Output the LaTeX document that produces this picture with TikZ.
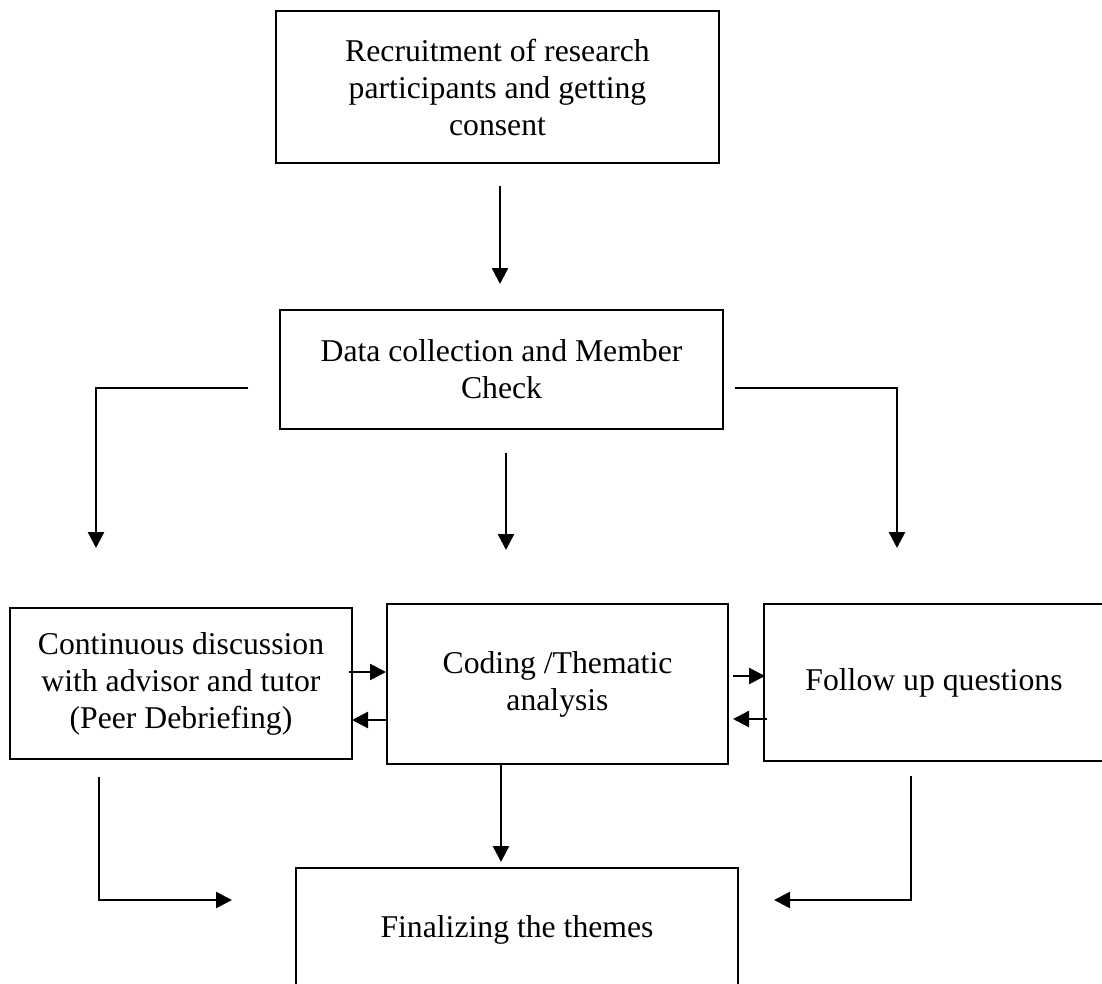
\documentclass[tikz,border=0pt]{standalone}
\usepackage{fontspec}
\setmainfont{Liberation Serif}
\usetikzlibrary{arrows.meta}
\begin{document}
\begin{tikzpicture}[x=1pt,y=-1pt,
  box/.style={draw, line width=2.5pt, inner sep=0pt, align=center,
    font=\fontsize{31.7}{37}\selectfont},
  conn/.style={line width=2.5pt},
  arr/.style={conn, -{Triangle[length=16pt,width=16pt]}}]
\useasboundingbox (0,0) rectangle (1102,984);
\clip (0,0) rectangle (1102,984);
% boxes
\node[box, minimum width=443pt, minimum height=152pt] (rec) at (497.5,87)
  {Recruitment of research\\participants and getting\\consent};
\node[box, minimum width=443pt, minimum height=119pt] (data) at (501.5,369.5)
  {Data collection and Member\\Check};
\node[box, minimum width=342pt, minimum height=151pt] (cont) at (181,683.5)
  {Continuous discussion\\with advisor and tutor\\(Peer Debriefing)};
\node[box, minimum width=341pt, minimum height=160pt] (code) at (557.5,684)
  {Coding /Thematic\\analysis};
\node[box, minimum width=340pt, minimum height=157pt] (follow) at (934,682.5)
  {Follow up questions};
\node[box, minimum width=442pt, minimum height=124pt] (final) at (517,930)
  {Finalizing the themes};
% free ends of connectors
\coordinate (r1) at (500,186);
\coordinate (r2) at (500,284);
\coordinate (dl1) at (248,388);
\coordinate (dl2) at (96,388);
\coordinate (dl3) at (96,548);
\coordinate (dm1) at (506,453);
\coordinate (dm2) at (506,550);
\coordinate (dr1) at (735,388);
\coordinate (dr2) at (897,388);
\coordinate (dr3) at (897,548);
\coordinate (cc1) at (349,672);
\coordinate (cc2) at (386,672);
\coordinate (cc3) at (386,720);
\coordinate (cc4) at (352,720);
\coordinate (cf1) at (733,676);
\coordinate (cf2) at (765,676);
\coordinate (cf3) at (767,719);
\coordinate (cf4) at (733,719);
\coordinate (cd1) at (501,764);
\coordinate (cd2) at (501,862);
\coordinate (lb1) at (99,777);
\coordinate (lb2) at (99,900);
\coordinate (lb3) at (232,900);
\coordinate (rb1) at (911,776);
\coordinate (rb2) at (911,900);
\coordinate (rb3) at (774,900);
% connectors
\draw[arr] (r1) -- (r2);
\draw[arr] (dl1) -- (dl2) -- (dl3);
\draw[arr] (dm1) -- (dm2);
\draw[arr] (dr1) -- (dr2) -- (dr3);
\draw[arr] (cc1) -- (cc2);
\draw[arr] (cc3) -- (cc4);
\draw[arr] (cf1) -- (cf2);
\draw[arr] (cf3) -- (cf4);
\draw[arr] (cd1) -- (cd2);
\draw[arr] (lb1) -- (lb2) -- (lb3);
\draw[arr] (rb1) -- (rb2) -- (rb3);
\end{tikzpicture}
\end{document}
